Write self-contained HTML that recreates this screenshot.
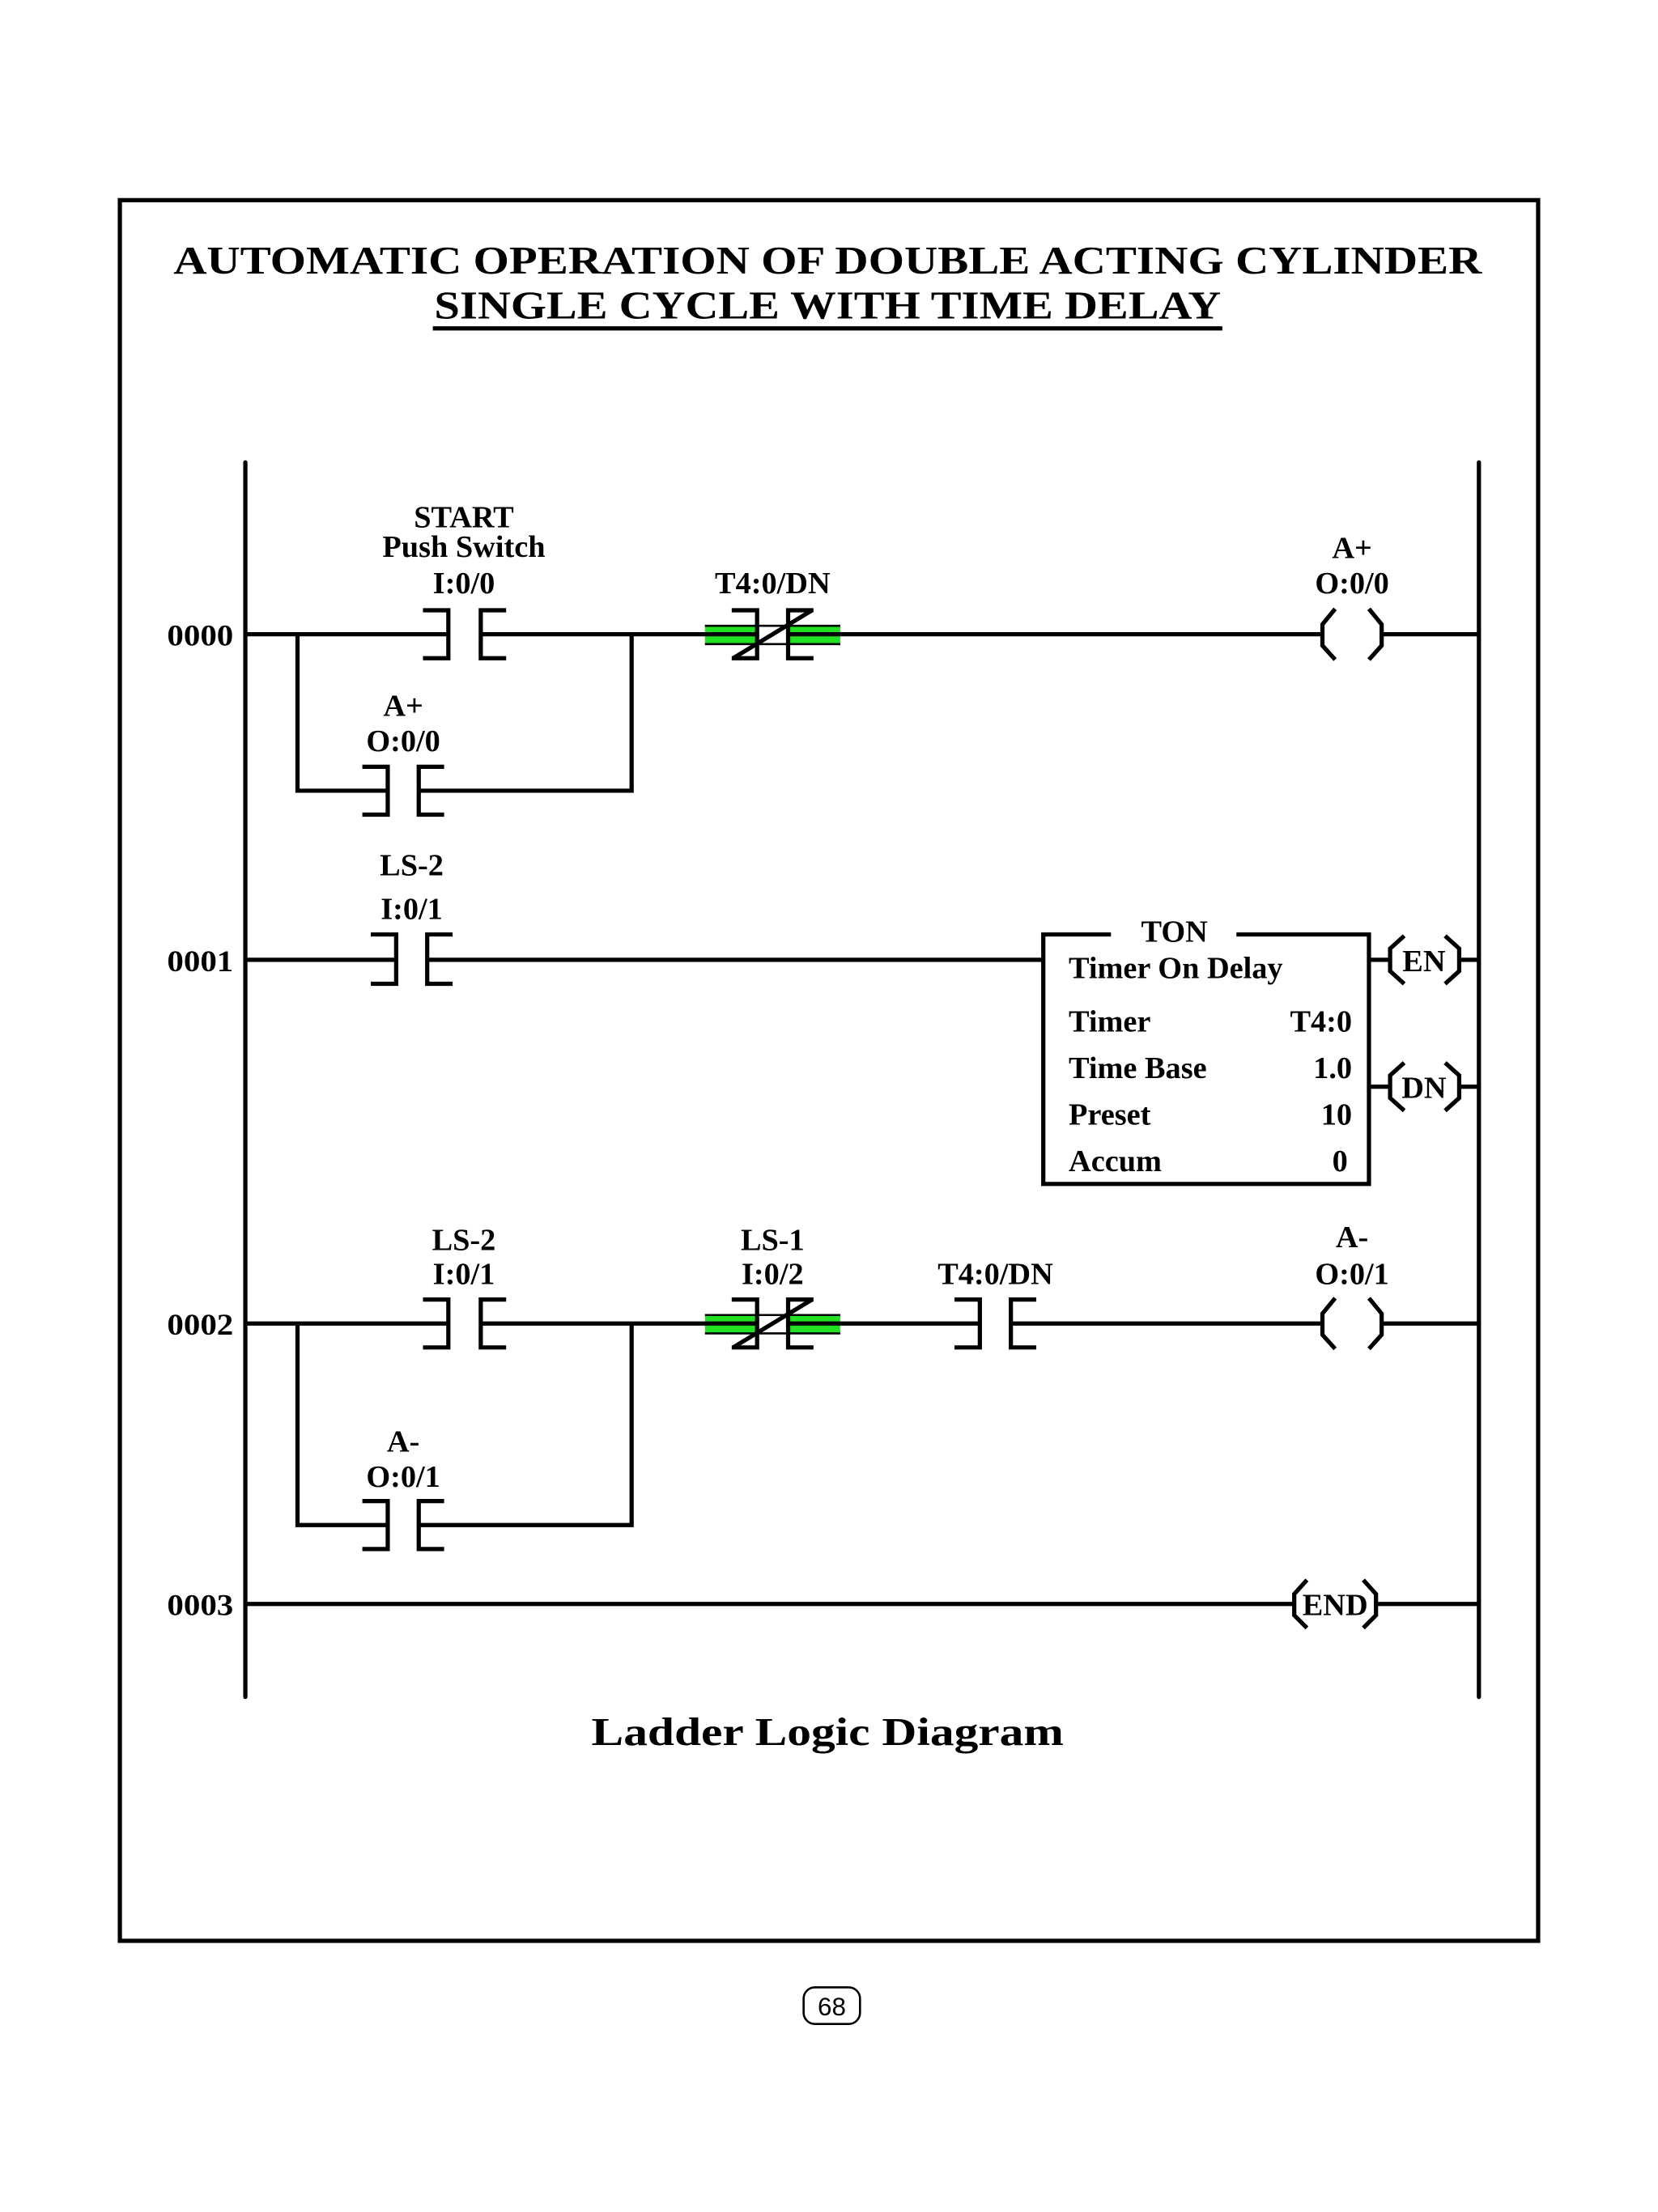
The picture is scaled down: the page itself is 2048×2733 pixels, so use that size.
<!DOCTYPE html>
<html><head><meta charset="utf-8"><style>
html,body{margin:0;padding:0;background:#fff;}
svg{display:block;}
text{font-family:"Liberation Serif",serif;font-weight:bold;fill:#000;}
</style></head><body>
<svg width="2048" height="2733" viewBox="0 0 1176 1569.4" xmlns="http://www.w3.org/2000/svg">
<rect x="0" y="0" width="1176" height="1569.4" fill="#fff"/>
<rect x="85" y="142" width="1006" height="1235" fill="none" stroke="#000" stroke-width="3"/>
<text x="587" y="194" font-size="28" text-anchor="middle" textLength="928" lengthAdjust="spacingAndGlyphs">AUTOMATIC OPERATION OF DOUBLE ACTING CYLINDER</text>
<text x="587" y="226" font-size="28" text-anchor="middle" textLength="558" lengthAdjust="spacingAndGlyphs">SINGLE CYCLE WITH TIME DELAY</text>
<line x1="307" y1="233" x2="867" y2="233" stroke="#000" stroke-width="3"/>

<g stroke="#000" stroke-width="3" fill="none" stroke-linecap="round">
<line x1="174" y1="328" x2="174" y2="1204"/>
<line x1="1049" y1="328" x2="1049" y2="1204"/>
</g>

<g>
<rect x="500" y="444" width="37" height="13" fill="#22e022"/>
<rect x="559" y="444" width="37" height="13" fill="#22e022"/>
<rect x="500" y="933" width="37" height="13" fill="#22e022"/>
<rect x="559" y="933" width="37" height="13" fill="#22e022"/>
</g>

<g stroke="#000" stroke-width="3" fill="none" stroke-linecap="butt">
<line x1="174" y1="450" x2="318" y2="450"/>
<polyline points="300,433 318,433 318,467 300,467"/>
<polyline points="359,433 341,433 341,467 359,467"/>
<line x1="341" y1="450" x2="537" y2="450"/>
<polyline points="519,433 537,433 537,467 519,467"/>
<polyline points="577,433 559,433 559,467 577,467"/>
<line x1="520" y1="467" x2="576" y2="433"/>
<line x1="559" y1="450" x2="938" y2="450"/>
<polyline points="947,432 938,443 938,458 947,468"/>
<polyline points="971,432 980,443 980,458 971,468"/>
<line x1="980" y1="450" x2="1049" y2="450"/>
<polyline points="211,450 211,561 275,561"/>
<polyline points="257,544 275,544 275,578 257,578"/>
<polyline points="315,544 297,544 297,578 315,578"/>
<polyline points="297,561 448,561 448,450"/>

<line x1="174" y1="681" x2="281" y2="681"/>
<polyline points="263,663 281,663 281,698 263,698"/>
<polyline points="321,663 303,663 303,698 321,698"/>
<line x1="303" y1="681" x2="740" y2="681"/>
<polyline points="788,663 740,663 740,840 971,840 971,663 877,663"/>
<line x1="971" y1="681" x2="986" y2="681"/>
<polyline points="996,664 986,673 986,689 996,698"/>
<polyline points="1025,664 1035,673 1035,689 1025,698"/>
<line x1="1035" y1="681" x2="1049" y2="681"/>
<line x1="971" y1="771" x2="986" y2="771"/>
<polyline points="996,754 986,763 986,779 996,788"/>
<polyline points="1025,754 1035,763 1035,779 1025,788"/>
<line x1="1035" y1="771" x2="1049" y2="771"/>

<line x1="174" y1="939" x2="318" y2="939"/>
<polyline points="300,922 318,922 318,956 300,956"/>
<polyline points="359,922 341,922 341,956 359,956"/>
<line x1="341" y1="939" x2="537" y2="939"/>
<polyline points="519,922 537,922 537,956 519,956"/>
<polyline points="577,922 559,922 559,956 577,956"/>
<line x1="520" y1="956" x2="576" y2="922"/>
<line x1="559" y1="939" x2="695" y2="939"/>
<polyline points="677,922 695,922 695,956 677,956"/>
<polyline points="735,922 717,922 717,956 735,956"/>
<line x1="717" y1="939" x2="938" y2="939"/>
<polyline points="947,921 938,932 938,947 947,957"/>
<polyline points="971,921 980,932 980,947 971,957"/>
<line x1="980" y1="939" x2="1049" y2="939"/>
<polyline points="211,939 211,1082 275,1082"/>
<polyline points="257,1065 275,1065 275,1099 257,1099"/>
<polyline points="315,1065 297,1065 297,1099 315,1099"/>
<polyline points="297,1082 448,1082 448,939"/>

<line x1="174" y1="1138" x2="918" y2="1138"/>
<polyline points="927,1121 918,1131 918,1146 927,1155"/>
<polyline points="967,1121 976,1131 976,1146 967,1155"/>
<line x1="976" y1="1138" x2="1049" y2="1138"/>
</g>
<g stroke="#000" stroke-width="1.5">
<line x1="500" y1="444" x2="596" y2="444"/><line x1="500" y1="457" x2="596" y2="457"/>
<line x1="500" y1="933" x2="596" y2="933"/><line x1="500" y1="946" x2="596" y2="946"/>
</g>

<g font-size="21">
<text x="142" y="458" text-anchor="middle" textLength="47" lengthAdjust="spacingAndGlyphs">0000</text>
<text x="142" y="689" text-anchor="middle" textLength="47" lengthAdjust="spacingAndGlyphs">0001</text>
<text x="142" y="947" text-anchor="middle" textLength="47" lengthAdjust="spacingAndGlyphs">0002</text>
<text x="142" y="1146" text-anchor="middle" textLength="47" lengthAdjust="spacingAndGlyphs">0003</text>
</g>
<g font-size="22" text-anchor="middle">
<text x="329" y="374">START</text>
<text x="329" y="395">Push Switch</text>
<text x="329" y="421">I:0/0</text>
<text x="548" y="421">T4:0/DN</text>
<text x="959" y="396">A+</text>
<text x="959" y="421">O:0/0</text>
<text x="286" y="508">A+</text>
<text x="286" y="533">O:0/0</text>
<text x="292" y="621">LS-2</text>
<text x="292" y="652">I:0/1</text>
<text x="329" y="887">LS-2</text>
<text x="329" y="911">I:0/1</text>
<text x="548" y="887">LS-1</text>
<text x="548" y="911">I:0/2</text>
<text x="706" y="911">T4:0/DN</text>
<text x="959" y="885">A-</text>
<text x="959" y="911">O:0/1</text>
<text x="286" y="1030">A-</text>
<text x="286" y="1055">O:0/1</text>
<text x="833" y="668">TON</text>
<text x="1010" y="689">EN</text>
<text x="1010" y="779">DN</text>
<text x="947" y="1146">END</text>
</g>
<g font-size="22">
<text x="758" y="694">Timer On Delay</text>
<text x="758" y="732">Timer</text>
<text x="758" y="765">Time Base</text>
<text x="758" y="798">Preset</text>
<text x="758" y="831">Accum</text>
</g>
<g font-size="22" text-anchor="end">
<text x="959" y="732">T4:0</text>
<text x="959" y="765">1.0</text>
<text x="959" y="798">10</text>
<text x="956" y="831">0</text>
</g>
<text x="587" y="1238" font-size="28" text-anchor="middle" textLength="335" lengthAdjust="spacingAndGlyphs">Ladder Logic Diagram</text>
<rect x="570" y="1410" width="40" height="26" rx="8" fill="none" stroke="#000" stroke-width="1.5"/>
<text x="590" y="1430" font-size="18" text-anchor="middle" style="font-family:'Liberation Sans',sans-serif;font-weight:normal">68</text>
</svg>
</body></html>
